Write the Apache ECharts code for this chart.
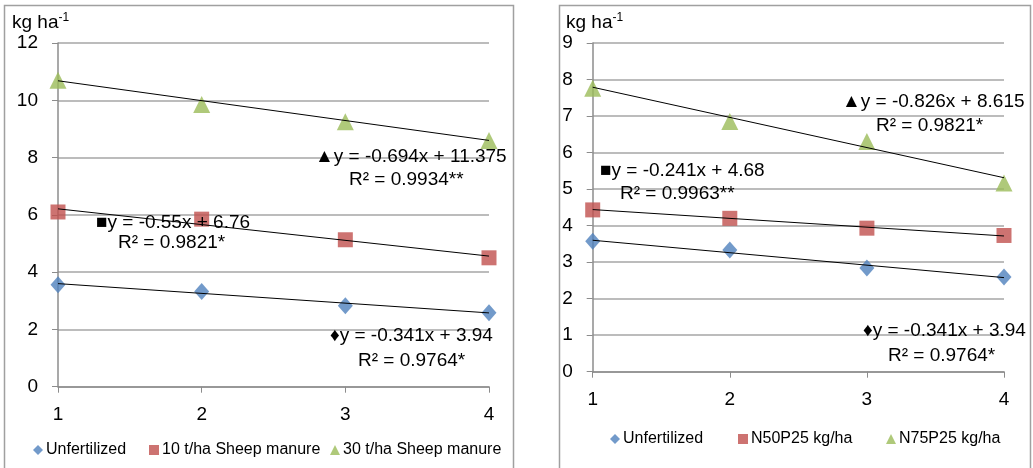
<!DOCTYPE html>
<html>
<head>
<meta charset="utf-8">
<script src="https://cdn.jsdelivr.net/npm/echarts@6/dist/echarts.min.js"></script>
<style>
  html, body { margin: 0; padding: 0; background: #fff; }
  #main { width: 1033px; height: 468px; }
</style>
</head>
<body>
<div id="main"></div>
<script>
// x positions (sampling dates)
var xVals = [1, 2, 3, 4];

// left chart: sheep manure
var leftNames = ["Unfertilized", "10 t/ha Sheep manure", "30 t/ha Sheep manure"];
var leftUnfert = [3.56, 3.32, 2.83, 2.58];
var leftSheep10 = [6.1, 5.85, 5.13, 4.5];
var leftSheep30 = [10.7, 9.85, 9.25, 8.6];
var leftSlope = [-0.341, -0.55, -0.694];
var leftIntercept = [3.94, 6.76, 11.375];

// right chart: mineral NP
var rightNames = ["Unfertilized ", "N50P25 kg/ha", "N75P25 kg/ha"];
var rightUnfert = [3.57, 3.33, 2.84, 2.59];
var rightN50 = [4.43, 4.2, 3.93, 3.73];
var rightN75 = [7.76, 6.85, 6.3, 5.17];
var rightSlope = [-0.341, -0.241, -0.826];
var rightIntercept = [3.94, 4.68, 8.615];

var colors = ["#4F81BD", "#C0504D", "#9BBB59"];
var symbols = ["diamond", "rect", "triangle"];
var sizes = [[15, 17], 15, 17];
var font = "Liberation Sans";

function pts(ys) {
  return xVals.map(function (x, i) { return [x, ys[i]]; });
}

function trend(slope, icpt, axis) {
  var x0 = xVals[0], x1 = xVals[xVals.length - 1];
  return {
    type: "line", xAxisIndex: axis, yAxisIndex: axis,
    data: [[x0, slope * x0 + icpt], [x1, slope * x1 + icpt]],
    symbol: "none", silent: true, z: 5,
    lineStyle: { color: "#000", width: 1 }
  };
}

function scatter(name, ys, k, axis) {
  return {
    name: name, type: "scatter", xAxisIndex: axis, yAxisIndex: axis,
    data: pts(ys), symbol: symbols[k], symbolSize: sizes[k],
    itemStyle: { color: colors[k] }, z: 3
  };
}

function xAxis(grid) {
  return {
    type: "value", gridIndex: grid, min: 1, max: 4, interval: 1,
    axisLine: { lineStyle: { color: "#8c8c8c", width: 1.5 } },
    axisTick: { show: true, length: 6, lineStyle: { color: "#8c8c8c" } },
    axisLabel: { color: "#000", fontSize: 19, fontFamily: font, margin: 19 },
    splitLine: { show: false }
  };
}

function yAxis(grid, max) {
  return {
    type: "value", gridIndex: grid, min: 0, max: max, interval: max === 12 ? 2 : 1,
    axisLine: { show: true, lineStyle: { color: "#8c8c8c", width: 1.5 } },
    axisTick: { show: true, length: 6, lineStyle: { color: "#8c8c8c" } },
    axisLabel: { color: "#000", fontSize: 19, fontFamily: font, margin: 20 },
    splitLine: { show: true, lineStyle: { color: "#a6a6a6", width: 1.5 } }
  };
}

function note(x, y, text) {
  return {
    type: "text", left: x, top: y - 11, z: 10,
    style: { text: text, fontSize: 19, fontFamily: font, fill: "#000" }
  };
}

function legendItem(name, k, left, top) {
  return {
    data: [{ name: name, icon: symbols[k] }], left: left, top: top,
    itemWidth: 10, itemHeight: 10, itemGap: 0,
    textStyle: { fontSize: 16, fontFamily: font, color: "#000", padding: [0, 0, 0, -2] }
  };
}

var chart = echarts.init(document.getElementById("main"));
chart.setOption({
  animation: false,
  color: colors,
  grid: [
    { left: 58, top: 43, width: 431, height: 343.7 },
    { left: 592.7, top: 43, width: 411.3, height: 328.7 }
  ],
  xAxis: [xAxis(0), xAxis(1)],
  yAxis: [yAxis(0, 12), yAxis(1, 9)],
  legend: [
    legendItem(leftNames[0], 0, 28, 437),
    legendItem(leftNames[1], 1, 144, 437),
    legendItem(leftNames[2], 2, 325, 437),
    legendItem(rightNames[0], 0, 605, 426),
    legendItem(rightNames[1], 1, 733, 426),
    legendItem(rightNames[2], 2, 881, 426)
  ],
  graphic: [
    { type: "rect", shape: { x: 4.5, y: 5.5, width: 509, height: 470 },
      style: { fill: "none", stroke: "#a0a0a0", lineWidth: 1.5 }, z: 0, silent: true },
    { type: "rect", shape: { x: 559.5, y: 5.5, width: 471, height: 470 },
      style: { fill: "none", stroke: "#a0a0a0", lineWidth: 1.5 }, z: 0, silent: true },
    { type: "text", left: 12, top: 12,
      style: { text: "{a|kg ha}{s|-1}", rich: {
        a: { fontSize: 19, fontFamily: font, fill: "#000", verticalAlign: "bottom" },
        s: { fontSize: 12, fontFamily: font, fill: "#000", verticalAlign: "top", padding: [0, 0, 8, 0] } } } },
    { type: "text", left: 566, top: 12,
      style: { text: "{a|kg ha}{s|-1}", rich: {
        a: { fontSize: 19, fontFamily: font, fill: "#000", verticalAlign: "bottom" },
        s: { fontSize: 12, fontFamily: font, fill: "#000", verticalAlign: "top", padding: [0, 0, 8, 0] } } } },
    note(315, 158, "\u25B2y = -0.694x + 11.375"),
    note(349, 181, "R\u00B2 = 0.9934**"),
    note(96, 224, "\u25A0y = -0.55x + 6.76"),
    note(118, 244, "R\u00B2 = 0.9821*"),
    note(330, 337, "\u2666y = -0.341x + 3.94"),
    note(358, 362, "R\u00B2 = 0.9764*"),
    note(842, 103, "\u25B2y = -0.826x + 8.615"),
    note(876, 127, "R\u00B2 = 0.9821*"),
    note(600, 172, "\u25A0y = -0.241x + 4.68"),
    note(620, 195, "R\u00B2 = 0.9963**"),
    note(863, 332, "\u2666y = -0.341x + 3.94"),
    note(888, 357, "R\u00B2 = 0.9764*")
  ],
  series: [
    scatter(leftNames[0], leftUnfert, 0, 0),
    scatter(leftNames[1], leftSheep10, 1, 0),
    scatter(leftNames[2], leftSheep30, 2, 0),
    trend(leftSlope[0], leftIntercept[0], 0),
    trend(leftSlope[1], leftIntercept[1], 0),
    trend(leftSlope[2], leftIntercept[2], 0),
    scatter(rightNames[0], rightUnfert, 0, 1),
    scatter(rightNames[1], rightN50, 1, 1),
    scatter(rightNames[2], rightN75, 2, 1),
    trend(rightSlope[0], rightIntercept[0], 1),
    trend(rightSlope[1], rightIntercept[1], 1),
    trend(rightSlope[2], rightIntercept[2], 1)
  ]
});
</script>
</body>
</html>
